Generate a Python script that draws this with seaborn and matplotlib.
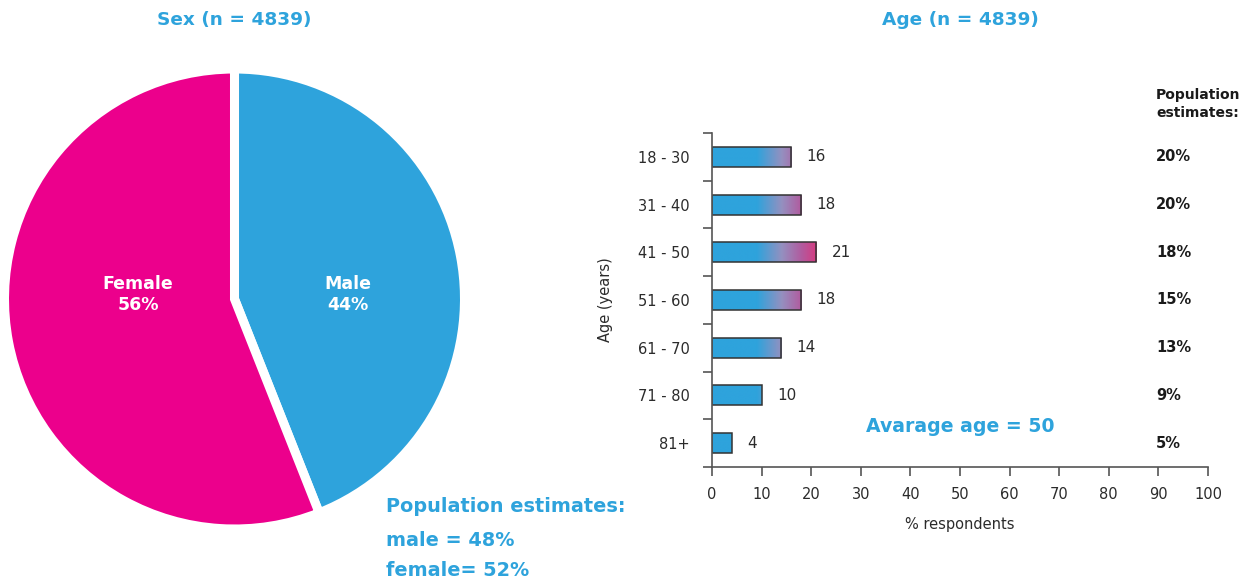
import numpy as np
import pandas as pd
import matplotlib
matplotlib.use("Agg")
import matplotlib.pyplot as plt
import matplotlib.transforms as mtransforms
from matplotlib.colors import LinearSegmentedColormap
import seaborn as sns

# ---- data ----
n_respondents = 4839
sex_labels = ["Male", "Female"]
sex_share = [44, 56]
sex_pop_labels = ["male", "female"]
sex_pop_share = [48, 52]

age_groups = ["18 - 30", "31 - 40", "41 - 50", "51 - 60", "61 - 70", "71 - 80", "81+"]
age_share = [16, 18, 21, 18, 14, 10, 4]
age_pop_share = [20, 20, 18, 15, 13, 9, 5]
average_age = 50
x_ticks = list(range(0, 101, 10))

# ---- style ----
BLUE = "#2EA3DC"
PINK = "#EC008C"
TEXT = "#2B2B2B"
AXIS = "#555555"

W, H = 1257, 585
sns.set_theme(style="white")
plt.rcParams["font.family"] = ["DejaVu Sans"]

fig = plt.figure(figsize=(W / 100, H / 100), dpi=100)


def fx(px):
    return px / W


def fy(py):
    return 1 - py / H


# ---- sex pie ----
cx, cy, r_px = 234.5, 299, 230
half = r_px * 1.05
ax_pie = fig.add_axes([fx(cx - half), fy(cy + half), 2 * half / W, 2 * half / H])
ax_pie.pie(sex_share, colors=[BLUE, PINK], startangle=90, counterclock=False,
           radius=1, wedgeprops=dict(edgecolor="white", linewidth=6.5))
ax_pie.set_xlim(-1.05, 1.05)
ax_pie.set_ylim(-1.05, 1.05)
ax_pie.set_aspect("equal")
ax_pie.axis("off")
for (lab, val), xpos in zip(zip(sex_labels, sex_share), [0.495, -0.42]):
    ax_pie.text(xpos, 0.02, f"{lab}\n{val}%", ha="center", va="center",
                color="white", fontweight="bold", fontsize=12.5, linespacing=1.2)

fig.text(fx(234), fy(20), f"Sex (n = {n_respondents})", ha="center", va="center",
         color=BLUE, fontweight="bold", fontsize=13.3)

pop_lines = ["Population estimates:"] + [
    f"{lab} = {v}%" if lab == "male" else f"{lab}= {v}%"
    for lab, v in zip(sex_pop_labels, sex_pop_share)]
for line, ypx in zip(pop_lines, [507, 540, 571]):
    fig.text(fx(386), fy(ypx), line, ha="left", va="center", color=BLUE,
             fontweight="bold", fontsize=13.9)

# ---- age bars ----
ax = fig.add_axes([fx(712), fy(467), (1208 - 712) / W, (467 - 133) / H])
df = pd.DataFrame({"age": age_groups, "share": age_share})
sns.barplot(data=df, x="share", y="age", orient="h", color=BLUE, width=0.42,
            edgecolor="#333333", linewidth=1.1, ax=ax)

# horizontal blue-to-magenta fill, keyed to the x position of each bar
grad = LinearSegmentedColormap.from_list(
    "age_grad",
    [(0.0, BLUE), (9 / 21, BLUE), (14 / 21, "#9490C0"),
     (18 / 21, "#B25A9E"), (1.0, "#D63A80")])
for p in list(ax.patches):
    x0, y0, w, h = p.get_x(), p.get_y(), p.get_width(), p.get_height()
    xs = np.linspace(x0, x0 + w, 256)
    rgba = grad(np.clip(xs / 21, 0, 1))[None, :, :]
    im = ax.imshow(rgba, extent=[x0, x0 + w, y0 + h, y0], aspect="auto",
                   interpolation="bilinear", zorder=p.get_zorder() - 0.1)
    im.set_clip_path(p)
    p.set_facecolor("none")

ax.set_xlim(0, 100)
ax.set_ylim(len(age_groups) - 0.5, -0.5)
ax.set_xticks(x_ticks)
ax.set_yticks(range(len(age_groups)))
ax.set_yticklabels(age_groups)
ax.set_yticks(np.arange(-0.5, len(age_groups), 1.0), minor=True)
ax.tick_params(axis="y", which="major", length=0, pad=16, labelsize=10.5,
               labelcolor=TEXT)
ax.tick_params(axis="y", which="minor", length=6.5, width=1.2, color=AXIS,
               direction="out", left=True)
ax.tick_params(axis="x", length=6.5, width=1.2, color=AXIS, direction="out",
               bottom=True, pad=8, labelsize=10.5, labelcolor=TEXT)
for side in ["top", "right"]:
    ax.spines[side].set_visible(False)
for side in ["left", "bottom"]:
    ax.spines[side].set_color(AXIS)
    ax.spines[side].set_linewidth(1.2)
ax.set_xlabel("% respondents", fontsize=10.5, color=TEXT, labelpad=11)
ax.set_ylabel("Age (years)", fontsize=10.5, color=TEXT, labelpad=18)
ax.grid(False)

ax.bar_label(ax.containers[0], padding=11, fontsize=11, color=TEXT)

trans = mtransforms.blended_transform_factory(fig.transFigure, ax.transData)
for i, v in enumerate(age_pop_share):
    ax.text(fx(1156), i, f"{v}%", transform=trans, ha="left", va="center",
            fontweight="bold", fontsize=10.5, color="#1A1A1A")
fig.text(fx(1156), fy(104), "Population\nestimates:", ha="left", va="center",
         fontweight="bold", fontsize=10, color="#1A1A1A", linespacing=1.3)

fig.text(fx(960), fy(20), f"Age (n = {n_respondents})", ha="center", va="center",
         color=BLUE, fontweight="bold", fontsize=13.3)
fig.text(fx(960), fy(427), f"Avarage age = {average_age}", ha="center",
         va="center", color=BLUE, fontweight="bold", fontsize=13.6)

fig.savefig("out.png", dpi=100)
